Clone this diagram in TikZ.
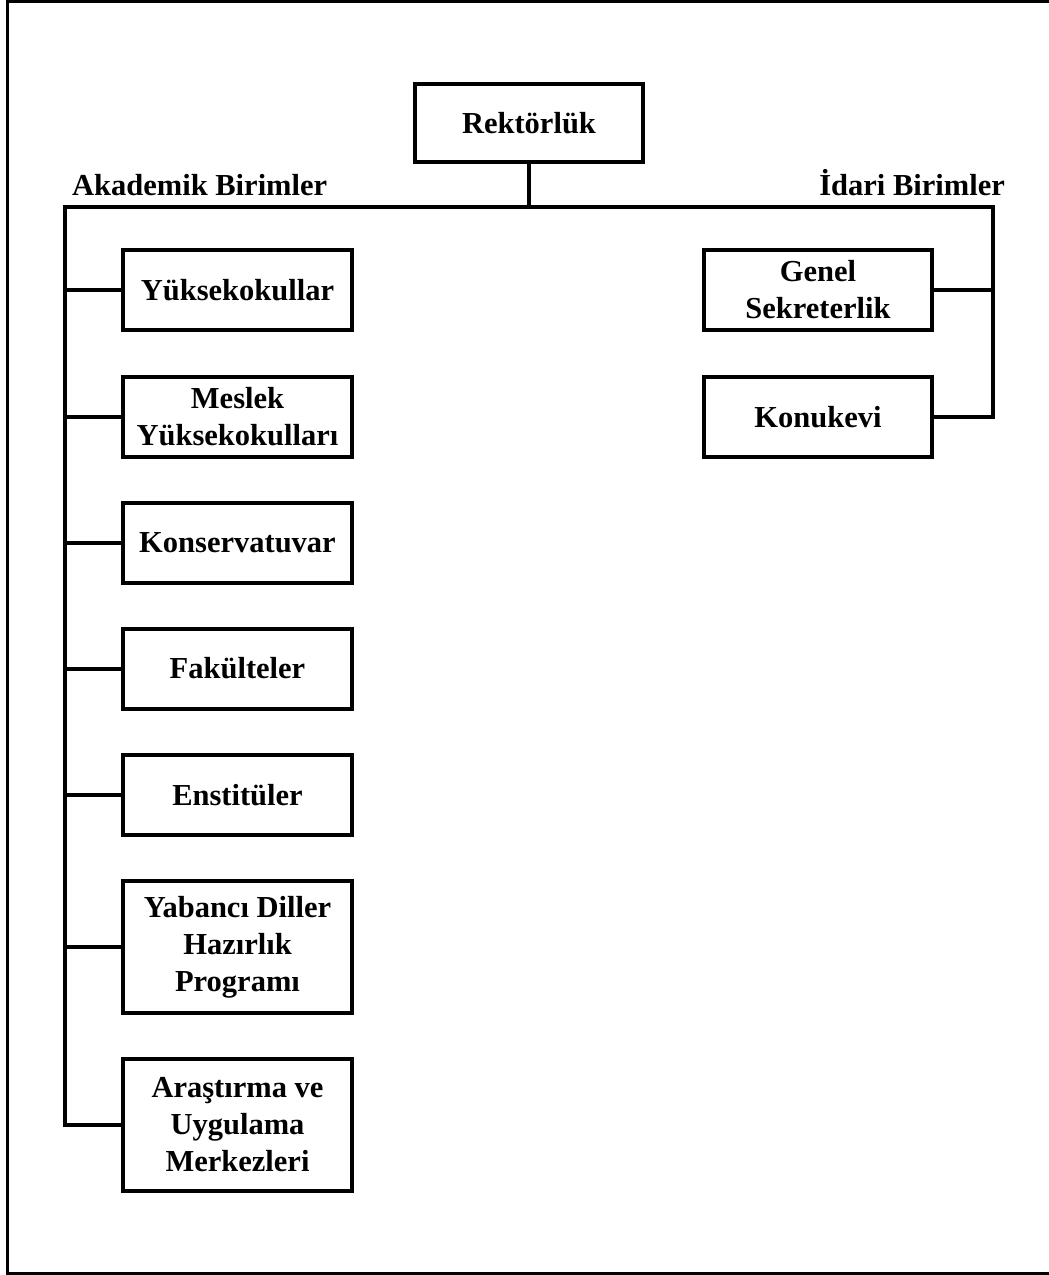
\documentclass[tikz,border=0pt]{standalone}
\usepackage{fontspec}
\setmainfont{Liberation Serif}
\begin{document}
\begin{tikzpicture}[x=1pt,y=-1pt,
  unitbox/.style={draw,line width=4pt,align=center,inner sep=0pt,
    minimum width=229pt,minimum height=80pt,
    font=\fontsize{30.5}{37}\selectfont\bfseries},
  tallbox/.style={unitbox,minimum height=132pt},
  link/.style={line width=4pt,line join=miter},
  grouplabel/.style={inner sep=0pt,font=\fontsize{30.5}{37}\selectfont\bfseries}]
\useasboundingbox (0,0) rectangle (1049,1275);
% page frame (open on the right)
\draw[line width=3pt] (1080,1.5) -- (7.5,1.5) -- (7.5,1273.5) -- (1080,1273.5);

% top unit
\node[unitbox,minimum width=228pt,minimum height=78pt] (rek) at (529,123) {Rektörlük};

% academic units
\node[unitbox] (b1) at (237.5,290) {Yüksekokullar};
\node[unitbox] (b2) at (237.5,417) {Meslek\\Yüksekokulları};
\node[unitbox] (b3) at (237.5,542.5) {Konservatuvar};
\node[unitbox] (b4) at (237.5,668.5) {Fakülteler};
\node[unitbox] (b5) at (237.5,795) {Enstitüler};
\node[tallbox] (b6) at (237.5,947) {Yabancı Diller\\Hazırlık\\Programı};
\node[tallbox] (b7) at (237.5,1125) {Araştırma ve\\Uygulama\\Merkezleri};

% administrative units
\node[unitbox,minimum width=228pt] (g1) at (818,290) {Genel\\Sekreterlik};
\node[unitbox,minimum width=228pt] (g2) at (818,417) {Konukevi};

% group labels
\node[grouplabel,anchor=base west] (ak) at (72,195) {Akademik Birimler};
\node[grouplabel,anchor=base east] (id) at (1005,195) {İdari Birimler};

% connectors
\coordinate (busL) at (65,207);
\coordinate (busR) at (993,207);
\draw[link] (rek.south) -- (rek.south |- busL);
\draw[link] (b7.west) -- (b7.west -| busL) -- (busL) -- (busR)
  -- (busR |- g2.east) -- (g2.east);
\foreach \b in {b1,b2,b3,b4,b5,b6}
  \draw[link] (\b.west) -- (\b.west -| busL);
\draw[link] (g1.east) -- (g1.east -| busR);
\end{tikzpicture}
\end{document}
